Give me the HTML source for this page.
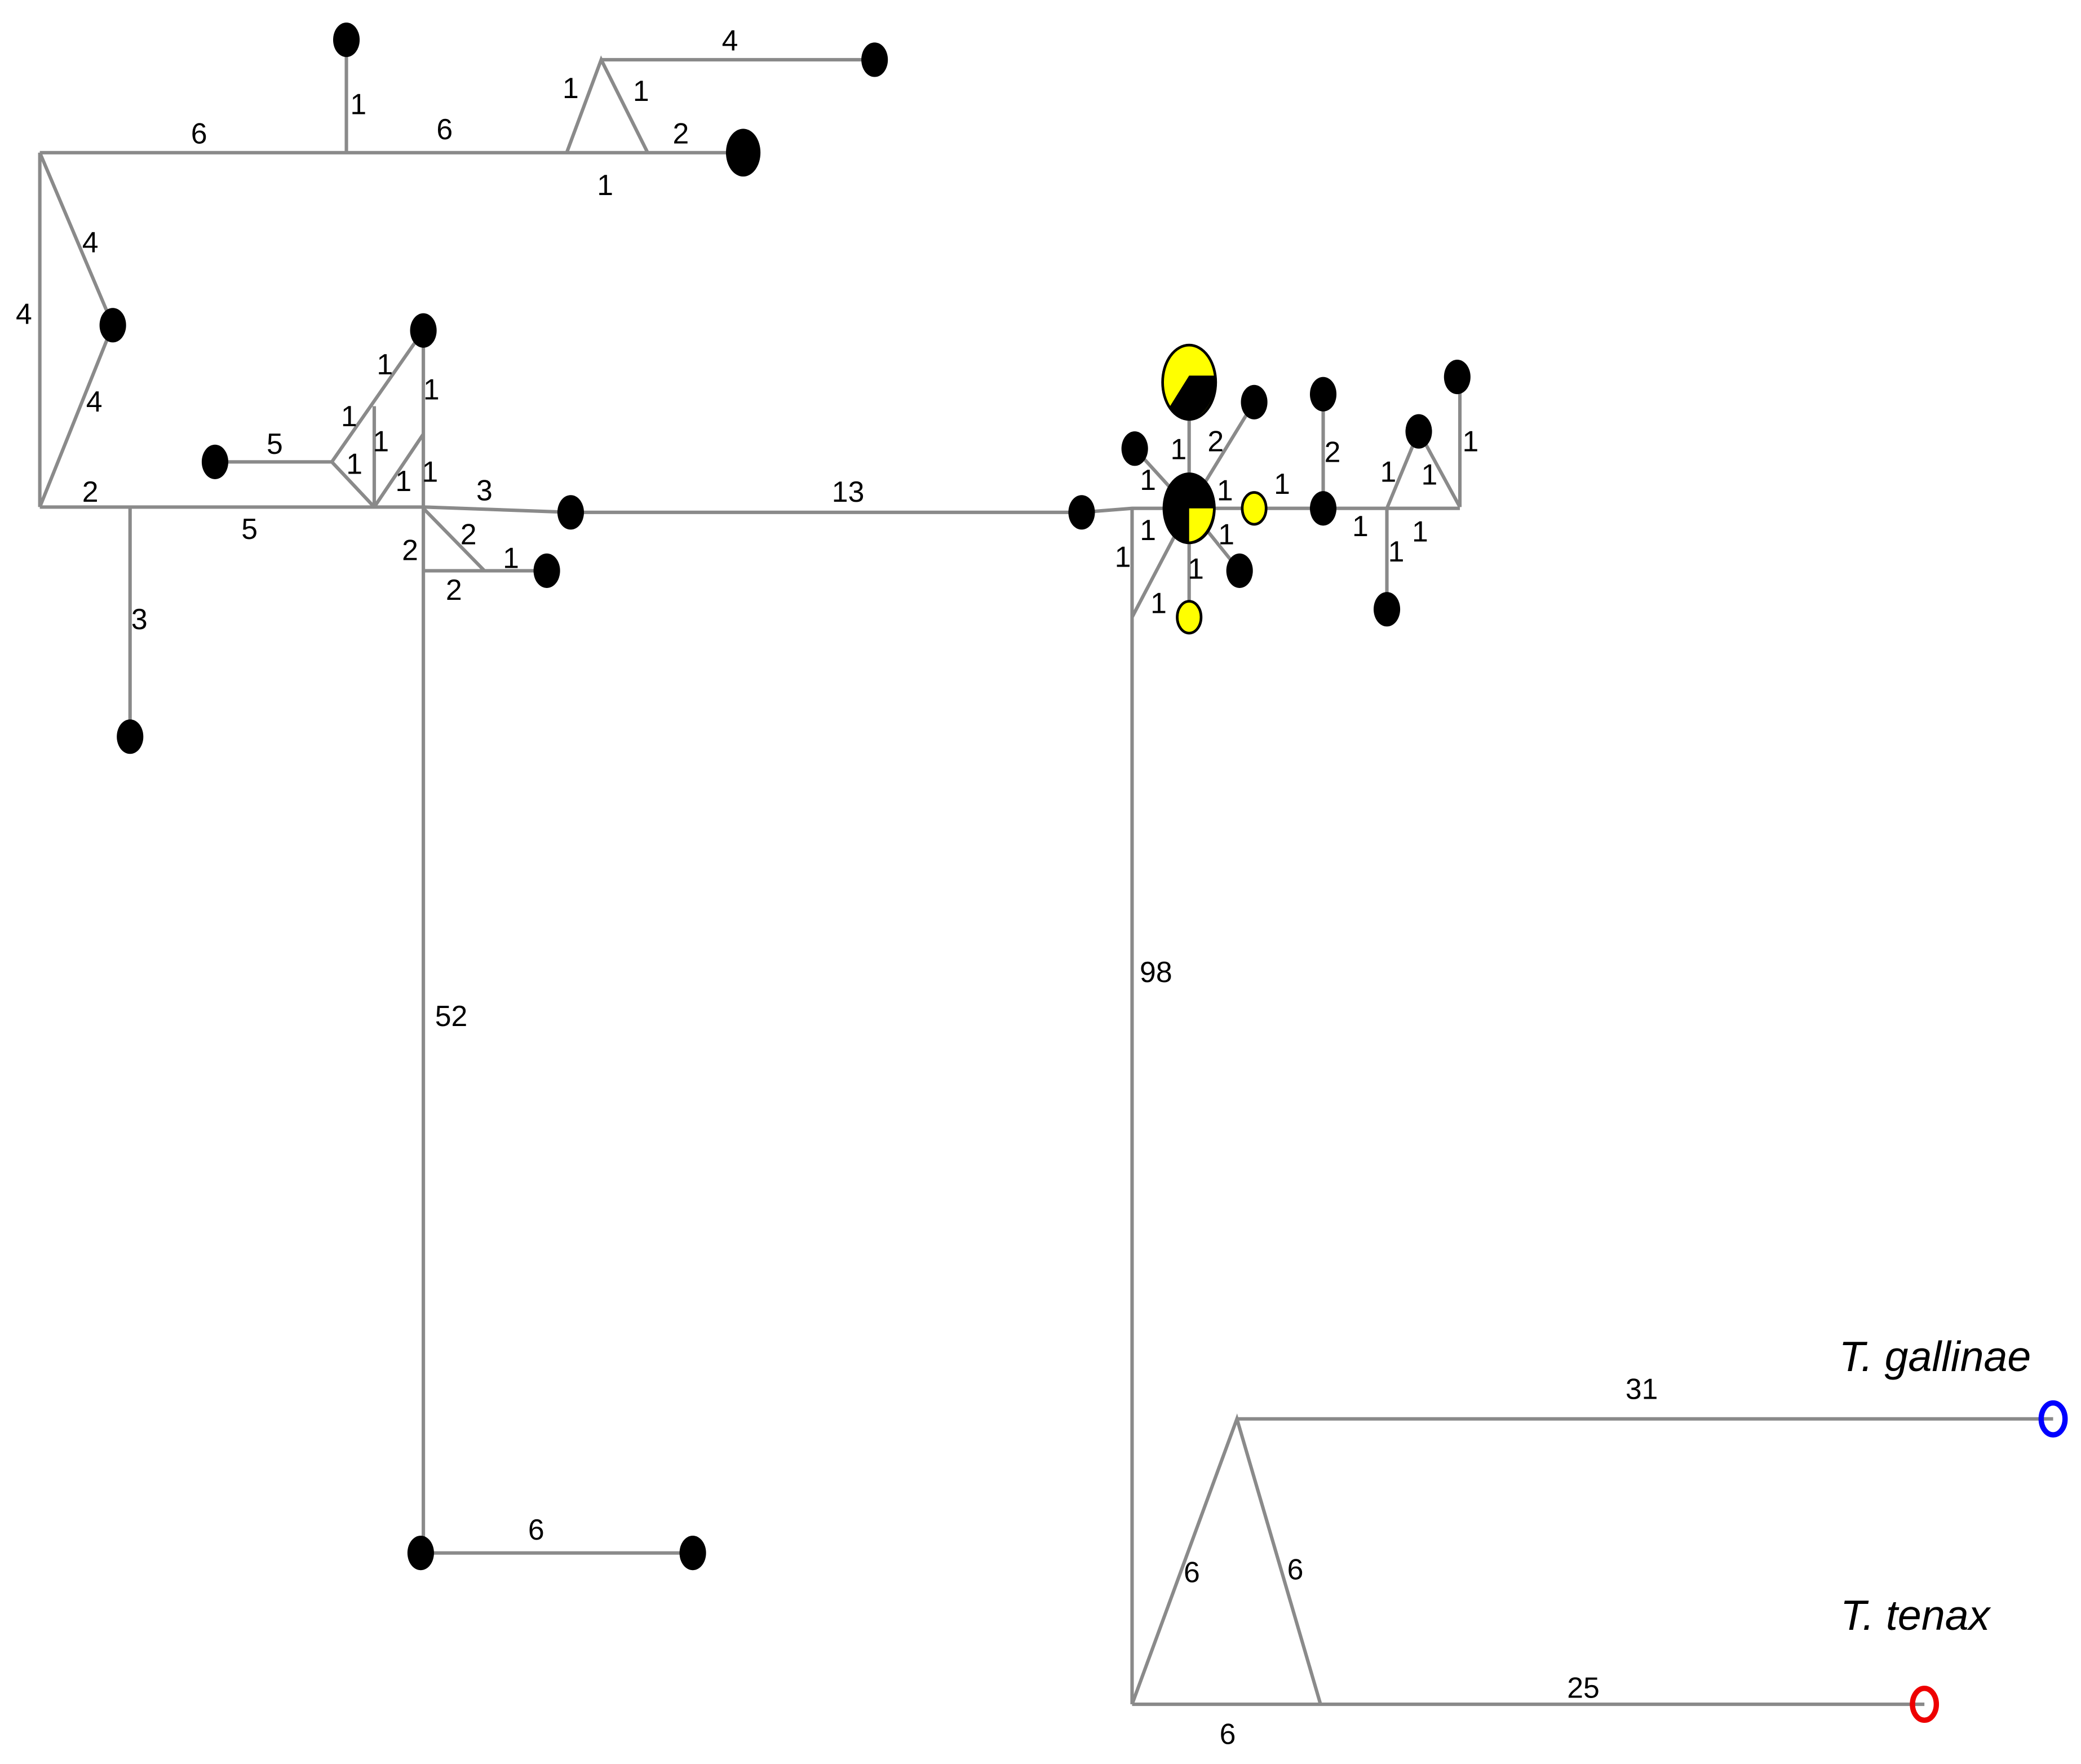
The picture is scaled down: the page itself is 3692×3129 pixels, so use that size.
<!DOCTYPE html>
<html><head><meta charset="utf-8"><style>html,body{margin:0;padding:0;background:#fff}svg{display:block}</style></head>
<body>
<svg width="3692" height="3129" viewBox="0 0 1568 1329" preserveAspectRatio="none" xmlns="http://www.w3.org/2000/svg">
<g stroke="#8a8a8a" stroke-width="2.6" fill="none">
<path d="M30,115H560M261,30V115M427,115L453,45L488,115M453,45H659"/>
<path d="M30,115V382M30,115L85,245L30,382"/>
<path d="M30,382H320L430,386H815L853,383H1100"/>
<path d="M98,382V555M162,348H250L282,382M250,348L319,249V382M282,306V382M282,382L319,327"/>
<path d="M319,382V1170M319,383L365,430M319,430H412M317,1170H522"/>
<path d="M853,383V1284M853,465L896,383M853,1284L932,1069L995,1284M932,1069H1547M853,1284H1450"/>
<path d="M896,383V288M896,383L945,303M896,383L855,338M896,383L934,430M896,383V465M997,297V383M1045,383L1069,325L1100,382M1100,284V382M1045,383V459"/>
</g>
<g fill="#000">
<ellipse cx="261" cy="30" rx="10" ry="13"/><ellipse cx="659" cy="45" rx="10" ry="13"/>
<ellipse cx="560" cy="115" rx="13" ry="18"/><ellipse cx="85" cy="245" rx="10" ry="13"/>
<ellipse cx="319" cy="249" rx="10" ry="13"/><ellipse cx="162" cy="348" rx="10" ry="13"/>
<ellipse cx="430" cy="386" rx="10" ry="13"/><ellipse cx="412" cy="430" rx="10" ry="13"/>
<ellipse cx="98" cy="555" rx="10" ry="13"/><ellipse cx="317" cy="1170" rx="10" ry="13"/>
<ellipse cx="522" cy="1170" rx="10" ry="13"/><ellipse cx="815" cy="386" rx="10" ry="13"/>
<ellipse cx="855" cy="338" rx="10" ry="13"/><ellipse cx="945" cy="303" rx="10" ry="13"/>
<ellipse cx="934" cy="430" rx="10" ry="13"/><ellipse cx="997" cy="297" rx="10" ry="13"/>
<ellipse cx="997" cy="383" rx="10" ry="13"/><ellipse cx="1069" cy="325" rx="10" ry="13"/>
<ellipse cx="1098" cy="284" rx="10" ry="13"/><ellipse cx="1045" cy="459" rx="10" ry="13"/>
</g>
<g stroke="#000" stroke-width="2">
<ellipse cx="945" cy="383" rx="9" ry="12" fill="#ff0"/>
<ellipse cx="896" cy="465" rx="9" ry="12" fill="#ff0"/>
<ellipse cx="896" cy="288" rx="20" ry="28" fill="#ff0"/>
<ellipse cx="896" cy="383" rx="19" ry="26" fill="#000"/>
</g>
<path d="M896,283H915A20,28 0 0 1 881,307Z" fill="#000"/>
<path d="M896,383H914A19,26 0 0 1 896,408Z" fill="#ff0"/>
<g fill="none" stroke-width="4">
<ellipse cx="1547" cy="1069" rx="9" ry="12" stroke="#00f"/>
<ellipse cx="1450" cy="1284" rx="9" ry="12" stroke="#e00"/>
</g>
<g font-family="Liberation Sans, sans-serif" font-size="22" fill="#000" text-anchor="middle">
<text x="150" y="108">6</text><text x="270" y="86">1</text><text x="335" y="105">6</text>
<text x="430" y="74">1</text><text x="483" y="76">1</text><text x="550" y="38">4</text>
<text x="513" y="108">2</text><text x="456" y="147">1</text>
<text x="68" y="190">4</text><text x="18" y="244">4</text><text x="71" y="310">4</text>
<text x="68" y="378">2</text><text x="188" y="406">5</text><text x="105" y="474">3</text>
<text x="207" y="342">5</text><text x="290" y="282">1</text><text x="263" y="321">1</text>
<text x="287" y="340">1</text><text x="267" y="357">1</text><text x="304" y="370">1</text>
<text x="325" y="301">1</text><text x="324" y="363">1</text>
<text x="365" y="377">3</text><text x="309" y="422">2</text><text x="353" y="410">2</text>
<text x="385" y="428">1</text><text x="342" y="452">2</text>
<text x="639" y="378">13</text><text x="340" y="773">52</text><text x="404" y="1160">6</text>
<text x="871" y="740">98</text>
<text x="888" y="346">1</text><text x="916" y="340">2</text><text x="865" y="369">1</text>
<text x="923" y="377">1</text><text x="966" y="372">1</text><text x="865" y="407">1</text>
<text x="924" y="410">1</text><text x="901" y="436">1</text><text x="846" y="427">1</text>
<text x="873" y="462">1</text><text x="1004" y="348">2</text><text x="1046" y="363">1</text>
<text x="1077" y="365">1</text><text x="1108" y="340">1</text><text x="1025" y="404">1</text>
<text x="1070" y="408">1</text><text x="1052" y="423">1</text>
<text x="1237" y="1054">31</text><text x="898" y="1192">6</text><text x="976" y="1190">6</text>
<text x="1193" y="1279">25</text><text x="925" y="1314">6</text>
<text x="1458" y="1033" font-size="32" font-style="italic">T. gallinae</text>
<text x="1443" y="1228" font-size="32" font-style="italic">T. tenax</text>
</g>
</svg>
</body></html>
